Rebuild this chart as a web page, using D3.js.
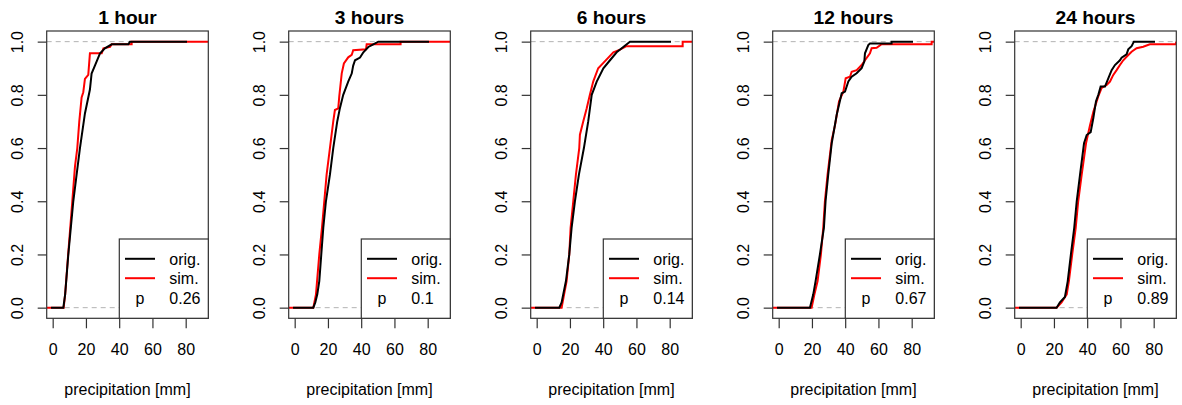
<!DOCTYPE html>
<html>
<head>
<meta charset="utf-8">
<script src="https://cdn.jsdelivr.net/npm/d3@7"></script>
<style>
  html, body { margin: 0; padding: 0; background: #fff; }
  svg { display: block; font-family: "Liberation Sans", Arial, sans-serif; }
</style>
</head>
<body>
<svg id="chart" width="1182" height="405"></svg>
<script>
// Panel titles (aggregation durations) and two-sample test p-values
const durations = ["1 hour", "3 hours", "6 hours", "12 hours", "24 hours"];
const pValues = ["0.26", "0.1", "0.14", "0.67", "0.89"];

// Axis ticks
const xTicks = [0, 20, 40, 60, 80];
const yTicks = [0, 0.2, 0.4, 0.6, 0.8, 1.0];

// Empirical CDF outlines: precipitation (mm) and cumulative fraction at each vertex
const origX = [
  [-1, 6.4, 7.5, 9.4, 12.4, 14, 16.4, 19.4, 22.4, 23.4, 25.4, 27.4, 28.4, 31.4, 35.5, 45.5, 46.5, 80.8],
  [-1, 11.2, 12.4, 13.6, 14.8, 16, 17.2, 18.8, 21.2, 23.2, 25.6, 27.2, 29.2, 32.2, 34.3, 35.2, 36.3, 39.3, 41.3, 44.3, 47.3, 50.3, 80.8],
  [-1, 13.6, 15, 17.6, 19.6, 21, 23, 25.4, 28.4, 31, 33.1, 36.1, 40.1, 44.1, 48.1, 52.1, 56.1, 80.8],
  [-1, 18.8, 20.8, 22.2, 24.8, 27.2, 28.2, 29.8, 31.9, 34.9, 37.9, 39.9, 41.9, 43.9, 46.9, 49.9, 51.5, 51.9, 53.9, 54.9, 67.9, 67.9, 80.8],
  [-1, 21.6, 23.6, 26.6, 28.3, 30.2, 32.2, 33.7, 35.7, 38.1, 39.7, 42.1, 43.7, 45.3, 46.7, 48.1, 50.7, 52.7, 54.7, 56.7, 59.7, 60.7, 63.7, 64.7, 66.7, 68.1, 80.8]
];
const origF = [
  [0, 0, 0.05, 0.2, 0.4, 0.48, 0.6, 0.73, 0.82, 0.88, 0.91, 0.94, 0.955, 0.975, 0.99, 0.99, 1, 1],
  [0, 0, 0.02, 0.05, 0.1, 0.2, 0.3, 0.4, 0.5, 0.6, 0.7, 0.75, 0.8, 0.85, 0.88, 0.91, 0.93, 0.94, 0.96, 0.98, 0.99, 1, 1],
  [0, 0, 0.02, 0.1, 0.2, 0.3, 0.4, 0.5, 0.6, 0.7, 0.8, 0.85, 0.9, 0.93, 0.96, 0.98, 1, 1],
  [0, 0, 0.05, 0.1, 0.2, 0.3, 0.4, 0.5, 0.618, 0.725, 0.806, 0.812, 0.85, 0.868, 0.881, 0.9, 0.925, 0.956, 0.987, 0.993, 0.993, 1, 1],
  [0, 0, 0.02, 0.04, 0.1, 0.2, 0.3, 0.4, 0.5, 0.618, 0.649, 0.66, 0.713, 0.776, 0.8, 0.831, 0.831, 0.862, 0.893, 0.912, 0.93, 0.94, 0.952, 0.971, 0.983, 1, 1]
];
const simX = [
  [-3.6, 6.6, 7.5, 9.3, 11.8, 13.4, 14.8, 16, 17.4, 18.4, 19.4, 21.4, 22.4, 29.5, 30.5, 34.5, 35.5, 47.5, 47.5, 93.6],
  [-3.6, 11.2, 12.8, 14.8, 16.4, 17.8, 19.2, 21.2, 23.2, 24.2, 26.2, 26.8, 28.3, 29.6, 32.2, 34.3, 35.2, 42.9, 43.3, 63.7, 63.7, 93.6],
  [-3.6, 15, 16.5, 18, 19.6, 20.4, 22, 23.6, 25.6, 26, 28, 30.1, 32, 34, 37, 40.1, 43.1, 46.1, 50.1, 54, 87.8, 87.8, 93.6],
  [-3.6, 19.8, 21.5, 23.4, 25.4, 26.8, 27.8, 29.4, 31.9, 33.9, 36.3, 38.9, 40.3, 42.9, 43.9, 46.9, 49.9, 51.9, 54.9, 55.9, 58.9, 61.9, 92, 92, 93.6],
  [-3.6, 21.6, 24.6, 27.7, 29, 31, 33.1, 34.6, 36.7, 39.3, 41.7, 43.7, 46.7, 48.7, 51.7, 53.7, 55.7, 57.7, 59.7, 61.7, 63.7, 66.7, 69.7, 73.7, 77.7, 93.3, 93.6]
];
const simF = [
  [0, 0, 0.05, 0.2, 0.4, 0.53, 0.6, 0.7, 0.79, 0.81, 0.86, 0.875, 0.956, 0.956, 0.975, 0.98, 0.99, 0.99, 1, 1],
  [0, 0, 0.05, 0.2, 0.3, 0.4, 0.5, 0.6, 0.7, 0.743, 0.749, 0.793, 0.881, 0.918, 0.941, 0.95, 0.968, 0.971, 0.99, 0.99, 1, 1],
  [0, 0, 0.05, 0.1, 0.2, 0.3, 0.4, 0.5, 0.6, 0.65, 0.7, 0.75, 0.8, 0.85, 0.9, 0.92, 0.94, 0.96, 0.97, 0.983, 0.983, 1, 1],
  [0, 0, 0.05, 0.1, 0.2, 0.3, 0.4, 0.5, 0.63, 0.686, 0.776, 0.812, 0.862, 0.868, 0.887, 0.893, 0.912, 0.93, 0.956, 0.975, 0.977, 0.99, 0.99, 1, 1],
  [0, 0, 0.02, 0.05, 0.1, 0.2, 0.3, 0.4, 0.5, 0.618, 0.686, 0.736, 0.795, 0.826, 0.837, 0.85, 0.875, 0.893, 0.912, 0.93, 0.943, 0.962, 0.975, 0.981, 0.99, 0.99, 1]
];

const xLim = [0, 90];

// Panel layout
const panelStep = 242;
const boxLeft0 = 46.7;
const boxW = 161.6;
const boxTop = 31;
const boxBottom = 318.3;
const font = "16px";
const frame = "#333";

const svg = d3.select("#chart");

// R-style 4% expansion of the axis ranges
const xPad = (xLim[1] - xLim[0]) * 0.04;
const xDomain = [xLim[0] - xPad, xLim[1] + xPad];
const yDomain = [-0.04, 1.04];

durations.forEach((title, i) => {
  const left = boxLeft0 + i * panelStep;
  const x = d3.scaleLinear().domain(xDomain).range([left, left + boxW]);
  const y = d3.scaleLinear().domain(yDomain).range([boxBottom, boxTop]);
  const g = svg.append("g");

  const clipId = "clip" + i;
  g.append("clipPath").attr("id", clipId)
    .append("rect")
    .attr("x", left).attr("y", boxTop)
    .attr("width", boxW).attr("height", boxBottom - boxTop);

  const plot = g.append("g").attr("clip-path", `url(#${clipId})`);

  // gray dashed reference lines at 0 and 1
  plot.selectAll("line.ref").data([0, 1]).enter().append("line")
    .attr("class", "ref")
    .attr("x1", x(xDomain[0])).attr("x2", x(xDomain[1]))
    .attr("y1", d => y(d)).attr("y2", d => y(d))
    .attr("stroke", "#b3b3b3").attr("stroke-width", 1)
    .attr("stroke-dasharray", "5,4");

  const cdfLine = d3.line().x(d => x(d[0])).y(d => y(d[1]));
  const pts = (xs, fs) => xs.map((v, k) => [v, fs[k]]);

  // simulated series (red)
  plot.append("path")
    .attr("d", cdfLine(pts(simX[i], simF[i])))
    .attr("fill", "none").attr("stroke", "#ff0000").attr("stroke-width", 2)
    .attr("stroke-linejoin", "miter");

  // observed series (black)
  plot.append("path")
    .attr("d", cdfLine(pts(origX[i], origF[i])))
    .attr("fill", "none").attr("stroke", "#000").attr("stroke-width", 2)
    .attr("stroke-linejoin", "miter");

  // x axis
  const xAxis = g.append("g")
    .attr("transform", `translate(0,${boxBottom})`)
    .call(d3.axisBottom(x).tickValues(xTicks).tickSize(10).tickFormat(d3.format("d")));
  xAxis.select(".domain").remove();
  xAxis.selectAll(".tick line").attr("stroke", frame).attr("stroke-width", 1.2);
  xAxis.selectAll(".tick text")
    .attr("y", 36.7).attr("dy", null)
    .attr("fill", "#000").style("font-size", font)
    .style("font-family", "'Liberation Sans', Arial, sans-serif");

  // y axis with rotated labels
  const yAxis = g.append("g")
    .attr("transform", `translate(${left},0)`)
    .call(d3.axisLeft(y).tickValues(yTicks).tickSize(9).tickFormat(d3.format(".1f")));
  yAxis.select(".domain").remove();
  yAxis.selectAll(".tick line").attr("stroke", frame).attr("stroke-width", 1.2);
  yAxis.selectAll(".tick text")
    .attr("transform", "rotate(-90)")
    .attr("x", 0).attr("y", -24).attr("dy", null)
    .attr("text-anchor", "middle")
    .attr("fill", "#000").style("font-size", font)
    .style("font-family", "'Liberation Sans', Arial, sans-serif");

  // plot frame
  g.append("rect")
    .attr("x", left).attr("y", boxTop)
    .attr("width", boxW).attr("height", boxBottom - boxTop)
    .attr("fill", "none").attr("stroke", frame).attr("stroke-width", 1.2);

  // title
  g.append("text")
    .attr("x", left + boxW / 2).attr("y", 24)
    .attr("text-anchor", "middle")
    .style("font-size", "19.2px").style("font-weight", "bold")
    .text(title);

  // x-axis label
  g.append("text")
    .attr("x", left + boxW / 2).attr("y", 395)
    .attr("text-anchor", "middle")
    .style("font-size", font)
    .text("precipitation [mm]");

  // legend (bottom right)
  const lgLeft = left + 72.6;
  const lgTop = 239;
  g.append("rect")
    .attr("x", lgLeft).attr("y", lgTop)
    .attr("width", left + boxW - lgLeft).attr("height", boxBottom - lgTop)
    .attr("fill", "#fff").attr("stroke", frame).attr("stroke-width", 1.2);

  const rows = [
    { label: "orig.", color: "#000" },
    { label: "sim.", color: "#ff0000" },
    { label: pValues[i], color: null }
  ];
  const rowY = [258.8, 278.2, 297.6];
  rows.forEach((r, k) => {
    if (r.color) {
      g.append("line")
        .attr("x1", lgLeft + 5.7).attr("x2", lgLeft + 35.7)
        .attr("y1", rowY[k]).attr("y2", rowY[k])
        .attr("stroke", r.color).attr("stroke-width", 2);
    } else {
      g.append("text")
        .attr("x", lgLeft + 20.7).attr("y", rowY[k] + 6)
        .attr("text-anchor", "middle")
        .style("font-size", font)
        .text("p");
    }
    g.append("text")
      .attr("x", lgLeft + 50).attr("y", rowY[k] + 6)
      .style("font-size", font)
      .text(r.label);
  });
});
</script>
</body>
</html>
